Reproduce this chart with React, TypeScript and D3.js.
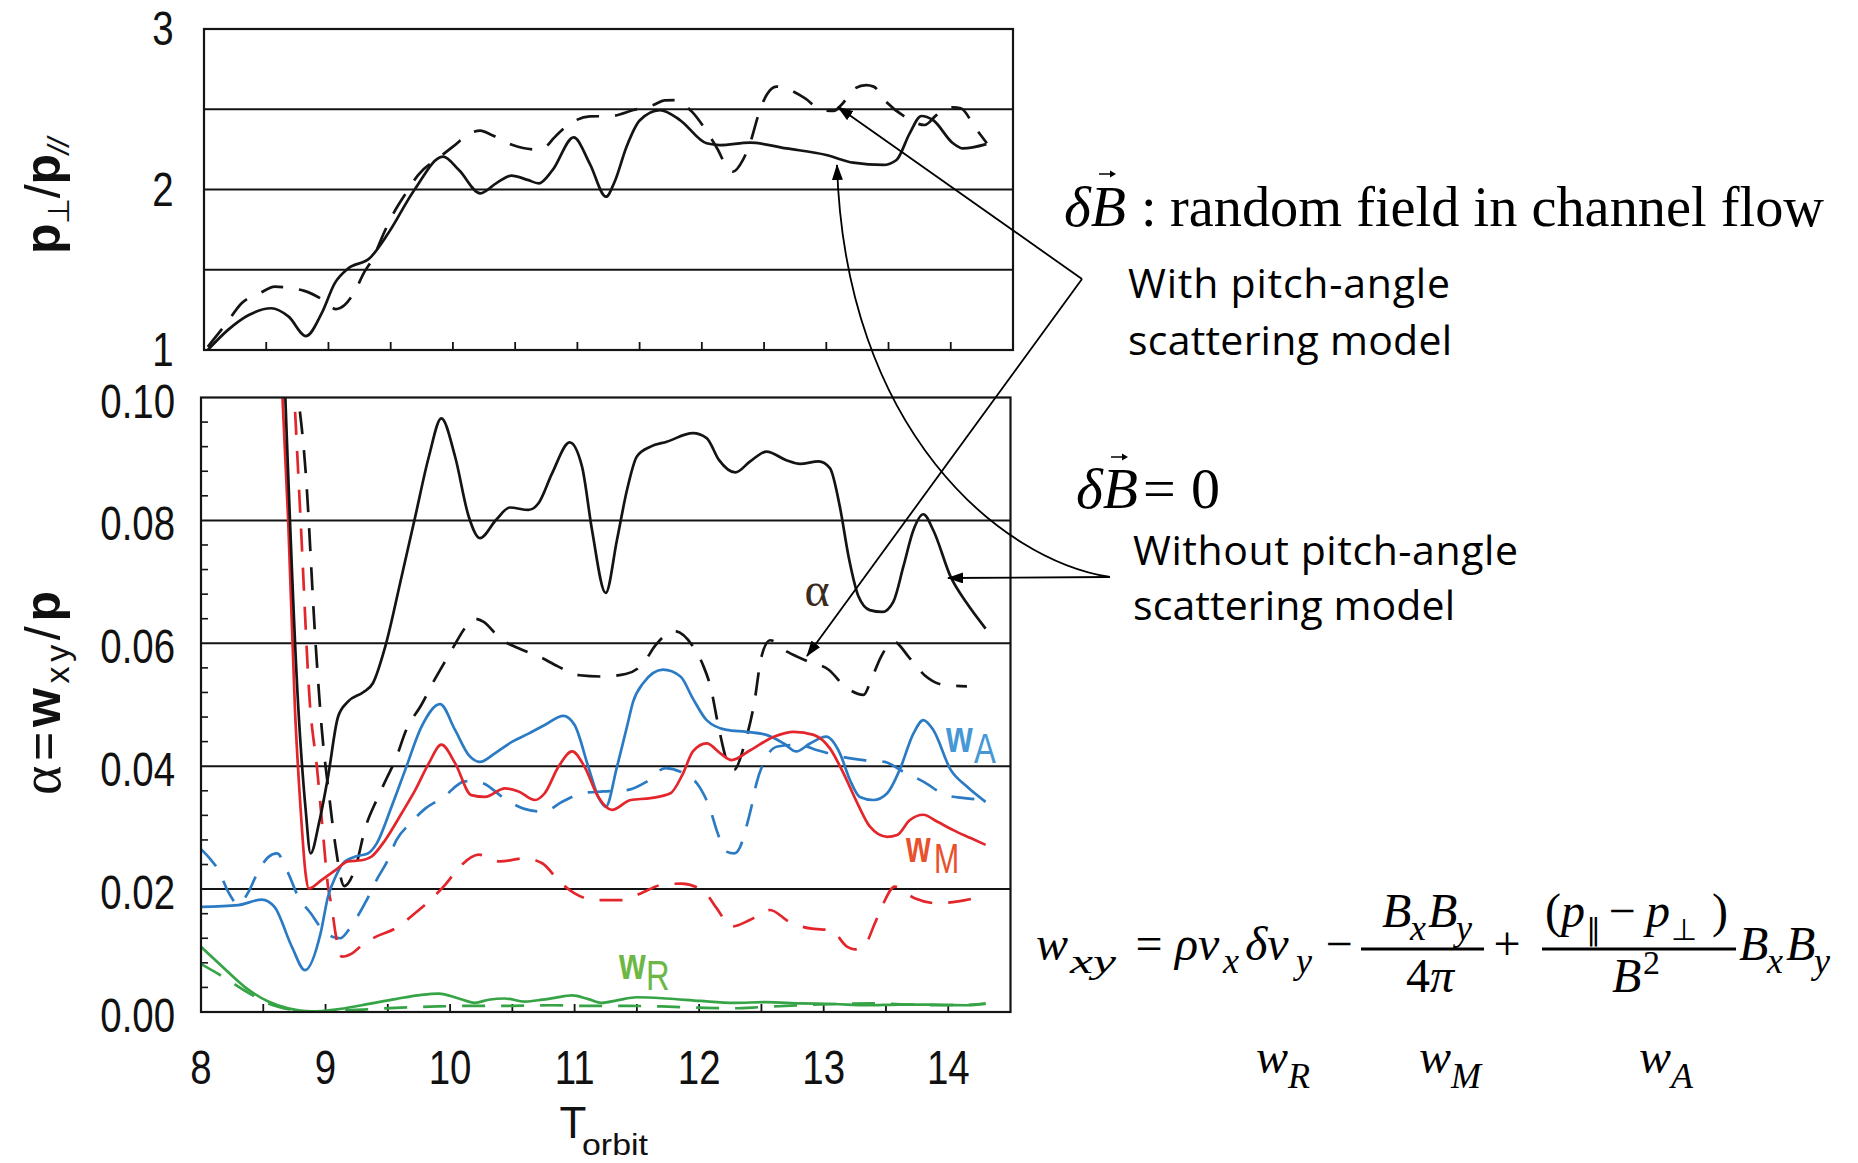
import React from 'react';
import * as d3 from 'd3';

const W = 1858;
const H = 1163;

// ---------- data: top panel  (T_orbit, p_perp/p_par) ----------
const ratioTickLabels = [1, 2, 3];
const ratioGrid = [1.5, 2, 2.5];
const ratioNoScatter: [number, number][] = [
  [8.03, 1.0], [8.2, 1.13], [8.36, 1.218], [8.54, 1.26], [8.68, 1.208], [8.82, 1.087], [8.945, 1.228],
  [9.05, 1.415], [9.16, 1.509], [9.33, 1.571], [9.48, 1.727], [9.69, 1.997], [9.92, 2.205],
  [10.05, 2.12], [10.22, 1.976], [10.35, 2.04], [10.47, 2.086], [10.6, 2.06], [10.69, 2.038],
  [10.8, 2.12], [10.97, 2.325], [11.1, 2.16], [11.23, 1.955], [11.3, 2.05], [11.395, 2.267],
  [11.5, 2.43], [11.663, 2.495], [11.824, 2.433], [12.038, 2.288], [12.145, 2.277], [12.386, 2.292],
  [12.68, 2.256], [13.0, 2.215], [13.216, 2.167], [13.457, 2.153], [13.564, 2.184], [13.67, 2.35],
  [13.764, 2.458], [13.857, 2.433], [14.018, 2.288], [14.098, 2.256], [14.286, 2.283],
];
const ratioScatter: [number, number][] = [
  [8.03, 1.02], [8.18, 1.166], [8.3, 1.29], [8.45, 1.355], [8.57, 1.395], [8.7, 1.385], [8.8, 1.37],
  [8.96, 1.31], [9.06, 1.255], [9.13, 1.28], [9.21, 1.363], [9.29, 1.488], [9.35, 1.56], [9.45, 1.737],
  [9.53, 1.862], [9.63, 1.986], [9.72, 2.09], [9.89, 2.2], [10.0, 2.267], [10.15, 2.355], [10.22, 2.367],
  [10.31, 2.34], [10.48, 2.277], [10.66, 2.25], [10.75, 2.27], [10.81, 2.32], [10.94, 2.41], [11.1, 2.455],
  [11.275, 2.458], [11.45, 2.495], [11.61, 2.526], [11.7, 2.555], [11.78, 2.557], [11.92, 2.485],
  [12.04, 2.36], [12.13, 2.246], [12.2, 2.14], [12.25, 2.111], [12.33, 2.184], [12.4, 2.319],
  [12.45, 2.454], [12.52, 2.589], [12.6, 2.641], [12.67, 2.63], [12.83, 2.568], [12.96, 2.495],
  [13.06, 2.49], [13.12, 2.526], [13.23, 2.63], [13.32, 2.65], [13.38, 2.641], [13.48, 2.547],
  [13.63, 2.454], [13.79, 2.402], [13.88, 2.46], [13.94, 2.495], [14.02, 2.512], [14.08, 2.506],
  [14.2, 2.381], [14.29, 2.288],
];

// ---------- data: bottom panel (T_orbit, alpha) ----------
const xTickLabels = [8, 9, 10, 11, 12, 13, 14];
const alphaTickLabels = [0, 0.02, 0.04, 0.06, 0.08, 0.1];
const alphaGrid = [0.02, 0.04, 0.06, 0.08];

const alphaNoScatter: [number, number][] = [
  [8.67, 0.104], [8.78, 0.05], [8.84, 0.033], [8.88, 0.0258], [8.95, 0.031], [9.02, 0.0383], [9.1, 0.048],
  [9.18, 0.0505], [9.3, 0.052], [9.38, 0.0535], [9.48, 0.0595], [9.61, 0.0708], [9.72, 0.0806],
  [9.83, 0.0904], [9.93, 0.0966], [10.04, 0.0904], [10.15, 0.0806], [10.24, 0.0771], [10.37, 0.0801],
  [10.48, 0.0821], [10.63, 0.0817], [10.71, 0.0828], [10.82, 0.0877], [10.96, 0.0927], [11.06, 0.0887],
  [11.14, 0.0784], [11.25, 0.0682], [11.34, 0.0768], [11.42, 0.0849], [11.5, 0.0904], [11.61, 0.092],
  [11.74, 0.0928], [11.95, 0.0942], [12.06, 0.0934], [12.16, 0.0898], [12.29, 0.0878], [12.41, 0.0896],
  [12.54, 0.0912], [12.7, 0.0898], [12.81, 0.0892], [12.96, 0.0896], [13.05, 0.0885], [13.13, 0.0822],
  [13.2, 0.0741], [13.28, 0.0676], [13.37, 0.0654], [13.47, 0.0651], [13.56, 0.0668], [13.64, 0.0725],
  [13.72, 0.0784], [13.8, 0.081], [13.88, 0.0784], [14.02, 0.0708], [14.15, 0.0665], [14.3, 0.0624],
];
const alphaScatter: [number, number][] = [
  [8.75, 0.104], [8.84, 0.088], [8.92, 0.06], [8.97, 0.046], [9.03, 0.035], [9.08, 0.027], [9.15, 0.0205],
  [9.24, 0.0235], [9.32, 0.03], [9.41, 0.0345], [9.49, 0.038], [9.56, 0.041], [9.65, 0.046], [9.77, 0.05],
  [9.86, 0.0535], [9.95, 0.0567], [10.03, 0.0595], [10.12, 0.0625], [10.2, 0.064], [10.27, 0.0635],
  [10.4, 0.0608], [10.55, 0.0592], [10.72, 0.0578], [10.87, 0.0562], [11.04, 0.0548], [11.22, 0.0546],
  [11.41, 0.055], [11.55, 0.0567], [11.65, 0.0597], [11.8, 0.062], [11.95, 0.0595], [12.03, 0.0565],
  [12.09, 0.053], [12.16, 0.046], [12.22, 0.041], [12.28, 0.0394], [12.37, 0.044], [12.44, 0.05],
  [12.5, 0.0578], [12.57, 0.0605], [12.71, 0.0586], [12.88, 0.057], [13.04, 0.0557], [13.17, 0.053],
  [13.32, 0.0516], [13.38, 0.054], [13.46, 0.0578], [13.56, 0.0603], [13.69, 0.0576], [13.81, 0.0548],
  [13.97, 0.0532], [14.15, 0.053],
];
const wANoScatter: [number, number][] = [
  [8.0, 0.0171], [8.3, 0.0174], [8.49, 0.0183], [8.59, 0.0171], [8.73, 0.0106], [8.835, 0.0068],
  [8.96, 0.0128], [9.02, 0.0188], [9.08, 0.022], [9.14, 0.0242], [9.24, 0.0253], [9.34, 0.0258],
  [9.41, 0.0274], [9.53, 0.0334], [9.64, 0.0394], [9.77, 0.0464], [9.92, 0.0501], [10.04, 0.0459],
  [10.15, 0.0418], [10.24, 0.0407], [10.36, 0.0421], [10.5, 0.044], [10.63, 0.0453], [10.76, 0.0467],
  [10.91, 0.0482], [11.0, 0.0467], [11.11, 0.0399], [11.19, 0.035], [11.25, 0.0334], [11.34, 0.0399],
  [11.42, 0.0464], [11.47, 0.0505], [11.55, 0.0535], [11.71, 0.0557], [11.85, 0.0546], [11.95, 0.051],
  [12.06, 0.0475], [12.22, 0.0459], [12.38, 0.0456], [12.54, 0.0451], [12.68, 0.0437], [12.78, 0.0424],
  [12.89, 0.0437], [13.02, 0.0448], [13.13, 0.0421], [13.21, 0.0378], [13.29, 0.035], [13.4, 0.0345],
  [13.51, 0.0356], [13.61, 0.0394], [13.72, 0.0453], [13.8, 0.0475], [13.88, 0.0459], [14.02, 0.0394],
  [14.15, 0.0367], [14.3, 0.0342],
];
const wAScatter: [number, number][] = [
  [8.0, 0.0265], [8.07, 0.025], [8.14, 0.0231], [8.22, 0.0195], [8.3, 0.0175], [8.38, 0.0195],
  [8.45, 0.0225], [8.54, 0.0252], [8.61, 0.0258], [8.7, 0.0226], [8.78, 0.0188], [8.88, 0.0161],
  [8.98, 0.0133], [9.06, 0.0122], [9.12, 0.012], [9.18, 0.0132], [9.24, 0.015], [9.33, 0.0182],
  [9.41, 0.0215], [9.5, 0.0247], [9.57, 0.028], [9.68, 0.0307], [9.8, 0.0331], [9.95, 0.035],
  [10.11, 0.0375], [10.18, 0.0376], [10.27, 0.0372], [10.42, 0.035], [10.59, 0.0331], [10.75, 0.0326],
  [10.9, 0.0342], [11.06, 0.0356], [11.23, 0.0359], [11.42, 0.0361], [11.58, 0.0375], [11.73, 0.0397],
  [11.85, 0.0391], [12.01, 0.0364], [12.09, 0.0329], [12.14, 0.0296], [12.22, 0.0261], [12.28, 0.0258],
  [12.33, 0.0269], [12.38, 0.0302], [12.42, 0.0334], [12.46, 0.0372], [12.52, 0.0407], [12.63, 0.0432],
  [12.8, 0.0435], [12.95, 0.0426], [13.13, 0.0416], [13.32, 0.041], [13.49, 0.0407], [13.64, 0.0391],
  [13.8, 0.0375], [13.98, 0.0353], [14.13, 0.0348], [14.3, 0.0345],
];
const wMNoScatter: [number, number][] = [
  [8.645, 0.104], [8.7, 0.08], [8.755, 0.049], [8.8, 0.033], [8.84, 0.0225], [8.865, 0.0201],
  [8.97, 0.0215], [9.08, 0.0231], [9.18, 0.0245], [9.29, 0.0247], [9.37, 0.0253], [9.48, 0.028],
  [9.61, 0.0323], [9.72, 0.0361], [9.83, 0.0405], [9.93, 0.0435], [10.04, 0.0405], [10.17, 0.0353],
  [10.28, 0.035], [10.44, 0.0364], [10.55, 0.0359], [10.68, 0.0345], [10.76, 0.0356], [10.87, 0.0399],
  [10.98, 0.0424], [11.08, 0.0399], [11.19, 0.035], [11.3, 0.0329], [11.45, 0.0345], [11.61, 0.0348],
  [11.77, 0.0356], [11.87, 0.0388], [11.95, 0.0424], [12.06, 0.0437], [12.17, 0.0421], [12.26, 0.041],
  [12.41, 0.0426], [12.6, 0.0448], [12.76, 0.0456], [12.92, 0.0451], [13.05, 0.0429], [13.16, 0.0388],
  [13.27, 0.034], [13.37, 0.0302], [13.51, 0.0285], [13.59, 0.0288], [13.69, 0.0312], [13.8, 0.0321],
  [13.91, 0.031], [14.04, 0.0296], [14.18, 0.0283], [14.3, 0.0272],
];
const wMScatter: [number, number][] = [
  [8.74, 0.104], [8.8, 0.08], [8.875, 0.05], [8.93, 0.04], [8.98, 0.029], [9.02, 0.0204], [9.05, 0.0171],
  [9.08, 0.0128], [9.13, 0.009], [9.21, 0.0095], [9.3, 0.011], [9.41, 0.0123], [9.56, 0.0136],
  [9.72, 0.0161], [9.84, 0.0182], [9.96, 0.0207], [10.09, 0.0239], [10.23, 0.0256], [10.4, 0.0245],
  [10.6, 0.025], [10.74, 0.0242], [10.88, 0.0212], [11.0, 0.0193], [11.18, 0.0182], [11.37, 0.0182],
  [11.53, 0.0193], [11.7, 0.0207], [11.86, 0.0209], [12.04, 0.0196], [12.14, 0.0169], [12.26, 0.0139],
  [12.41, 0.015], [12.57, 0.0166], [12.72, 0.0147], [12.89, 0.0136], [13.06, 0.0133], [13.19, 0.0106],
  [13.25, 0.0102], [13.33, 0.0109], [13.41, 0.0144], [13.48, 0.0177], [13.57, 0.0204], [13.73, 0.0185],
  [13.91, 0.0177], [14.08, 0.018], [14.27, 0.0188],
];
const wRNoScatter: [number, number][] = [
  [8.0, 0.0106], [8.17, 0.0074], [8.35, 0.0041], [8.54, 0.0017], [8.7, 0.0006], [8.89, 0.0001],
  [9.08, 0.0004], [9.29, 0.0011], [9.56, 0.0021], [9.77, 0.0028], [9.91, 0.003], [10.07, 0.0022],
  [10.2, 0.0015], [10.31, 0.002], [10.44, 0.0022], [10.6, 0.0017], [10.74, 0.002], [10.84, 0.0023],
  [10.98, 0.0027], [11.11, 0.0021], [11.22, 0.0015], [11.34, 0.0019], [11.5, 0.0024], [11.74, 0.0022],
  [12.01, 0.0018], [12.28, 0.0015], [12.54, 0.0016], [12.81, 0.0014], [13.08, 0.0013], [13.35, 0.0011],
  [13.61, 0.0012], [13.88, 0.0012], [14.15, 0.0011], [14.3, 0.0014],
];
const wRScatter: [number, number][] = [
  [8.0, 0.0078], [8.18, 0.0057], [8.35, 0.0035], [8.55, 0.0013], [8.75, 0.0003], [8.9, 0.0],
  [9.1, 0.0002], [9.3, 0.0004], [9.6, 0.0007], [9.9, 0.0009], [10.2, 0.001], [10.5, 0.001],
  [10.8, 0.0011], [11.1, 0.001], [11.4, 0.001], [11.7, 0.0009], [12.0, 0.0007], [12.25, 0.0006],
  [12.5, 0.0008], [12.8, 0.0011], [13.1, 0.0013], [13.4, 0.0014], [13.7, 0.0012], [14.0, 0.0011],
  [14.3, 0.0013],
];

const BLACK = '#141414';
const BLUE = '#2b7bc4';
const RED = '#e3262b';
const GREEN = '#36a446';

const SANS = 'Liberation Sans, Arial, sans-serif';
const SERIF = 'Liberation Serif, Times New Roman, serif';
const TEXT_SANS = 'Open Sans, Noto Sans, sans-serif';

const xTop = d3.scaleLinear().domain([8, 14.5]).range([204, 1013]);
const yTop = d3.scaleLinear().domain([1, 3]).range([350, 29]);
const xBot = d3.scaleLinear().domain([8, 14.5]).range([201, 1010.5]);
const yBot = d3.scaleLinear().domain([0, 0.1]).range([1012, 397.5]);

const halfTicks = d3.range(8.5, 14.01, 0.5);
const minorAlpha = d3.range(0.004, 0.1, 0.004).filter((v) => Math.abs(v / 0.02 - Math.round(v / 0.02)) > 0.01);

function Tick({ x, y, text, anchor }: { x: number; y: number; text: string; anchor: string }) {
  return (
    <g transform={`translate(${x},${y}) scale(0.8,1)`}>
      <text x={0} y={0} fontFamily={SANS} fontSize={48} textAnchor={anchor} fill="#111">
        {text}
      </text>
    </g>
  );
}

function Sub({ x, y, size, color, main, sub, mainSize, subSize, sx }: any) {
  return (
    <g fill={color} fontFamily={SANS}>
      <g transform={`translate(${x},${y}) scale(${sx},1)`}>
        <text fontSize={mainSize} fontWeight="bold">{main}</text>
      </g>
      <g transform={`translate(${x + size},${y + 11}) scale(${sx},1)`}>
        <text fontSize={subSize}>{sub}</text>
      </g>
    </g>
  );
}

export default function App() {
  const lineTop = d3
    .line<[number, number]>()
    .x((d) => xTop(d[0]))
    .y((d) => yTop(d[1]))
    .curve(d3.curveMonotoneX);
  const lineBot = d3
    .line<[number, number]>()
    .x((d) => xBot(d[0]))
    .y((d) => yBot(d[1]))
    .curve(d3.curveMonotoneX);

  const DASH = '23 16';
  const SW = 2.7;

  const botSeries = [
    { d: wRScatter, c: GREEN, dash: DASH },
    { d: wRNoScatter, c: GREEN, dash: undefined },
    { d: wAScatter, c: BLUE, dash: DASH },
    { d: wMScatter, c: RED, dash: DASH },
    { d: alphaScatter, c: BLACK, dash: DASH },
    { d: wANoScatter, c: BLUE, dash: undefined },
    { d: wMNoScatter, c: RED, dash: undefined },
    { d: alphaNoScatter, c: BLACK, dash: undefined },
  ];

  return (
    <svg
      width={W}
      height={H}
      viewBox={`0 0 ${W} ${H}`}
      style={{ position: 'absolute', left: 0, top: 0, background: '#fff' }}
    >
      <defs>
        <clipPath id="clipTop">
          <rect x={204} y={29} width={809} height={321} />
        </clipPath>
        <clipPath id="clipBot">
          <rect x={201} y={397.5} width={809.5} height={614.5} />
        </clipPath>
        <marker id="ah" viewBox="0 0 16 11" refX={15} refY={5.5} markerWidth={16} markerHeight={11} markerUnits="userSpaceOnUse" orient="auto">
          <path d="M0,0 L16,5.5 L0,11 z" fill="#000" />
        </marker>
      </defs>
      <rect x={0} y={0} width={W} height={H} fill="#fff" />

      {/* ---------------- TOP PANEL ---------------- */}
      {ratioGrid.map((v) => (
        <line key={v} x1={xTop(8)} x2={xTop(14.5)} y1={yTop(v)} y2={yTop(v)} stroke={BLACK} strokeWidth={2} />
      ))}
      {halfTicks.map((t) => (
        <line key={t} x1={xTop(t)} x2={xTop(t)} y1={yTop(1)} y2={yTop(1) - 8} stroke={BLACK} strokeWidth={1.8} />
      ))}
      <g clipPath="url(#clipTop)" fill="none">
        <path d={lineTop(ratioScatter) || ''} stroke={BLACK} strokeWidth={SW} strokeDasharray={DASH} />
        <path d={lineTop(ratioNoScatter) || ''} stroke={BLACK} strokeWidth={SW} />
      </g>
      <rect x={204} y={29} width={809} height={321} fill="none" stroke={BLACK} strokeWidth={2.2} />
      {ratioTickLabels.map((v) => (
        <Tick key={v} x={163} y={yTop(v) + 16} text={String(v)} anchor="middle" />
      ))}
      <text
        transform="translate(60,196) rotate(-90)"
        textAnchor="middle"
        fontFamily={SANS}
        fontWeight="bold"
        fontSize={50}
        fill="#111"
        textLength={116}
        lengthAdjust="spacing"
      >
        <tspan>p</tspan>
        <tspan fontSize={30} fontWeight="normal" dy={9}>⊥</tspan>
        <tspan dy={-9} fontWeight="normal">/</tspan>
        <tspan>p</tspan>
        <tspan fontSize={30} fontWeight="normal" fontStyle="italic" dy={9}>//</tspan>
      </text>

      {/* ---------------- BOTTOM PANEL ---------------- */}
      {alphaGrid.map((v) => (
        <line key={v} x1={xBot(8)} x2={xBot(14.5)} y1={yBot(v)} y2={yBot(v)} stroke={BLACK} strokeWidth={2} />
      ))}
      {minorAlpha.map((v) => (
        <line key={v} x1={xBot(8)} x2={xBot(8) + 7} y1={yBot(v)} y2={yBot(v)} stroke={BLACK} strokeWidth={1.6} />
      ))}
      {halfTicks.map((t) => (
        <line key={t} x1={xBot(t)} x2={xBot(t)} y1={yBot(0)} y2={yBot(0) - 8} stroke={BLACK} strokeWidth={1.8} />
      ))}
      <g clipPath="url(#clipBot)" fill="none">
        {botSeries.map((s, i) => (
          <path key={i} d={lineBot(s.d) || ''} stroke={s.c} strokeWidth={SW} strokeDasharray={s.dash} />
        ))}
      </g>
      <rect x={201} y={397.5} width={809.5} height={614.5} fill="none" stroke={BLACK} strokeWidth={2.2} />
      {alphaTickLabels.map((v) => (
        <Tick key={v} x={175} y={yBot(v) + 20} text={v.toFixed(2)} anchor="end" />
      ))}
      {xTickLabels.map((t) => (
        <Tick key={t} x={xBot(t)} y={1084} text={String(t)} anchor="middle" />
      ))}
      <text x={573} y={1138} textAnchor="middle" fontFamily={SANS} fontSize={44} fill="#111">T</text>
      <text x={582} y={1155} fontFamily={SANS} fontSize={29} fill="#111" textLength={66} lengthAdjust="spacingAndGlyphs">orbit</text>
      <text
        transform="translate(60,693) rotate(-90)"
        textAnchor="middle"
        fontFamily={SANS}
        fontSize={50}
        fill="#111"
        textLength={204}
        lengthAdjust="spacing"
      >
        <tspan fontFamily={SERIF} fontSize={56}>α</tspan>
        <tspan>=</tspan>
        <tspan fontWeight="bold">w</tspan>
        <tspan fontSize={34} dy={9}>xy</tspan>
        <tspan dy={-9}>/</tspan>
        <tspan fontWeight="bold">p</tspan>
      </text>

      {/* curve labels */}
      <text x={817} y={606} textAnchor="middle" fontFamily={SERIF} fontSize={48} fill="#3b2c22">α</text>
      <Sub x={946} y={752} size={28} color="#4597d6" main="w" sub="A" mainSize={44} subSize={42} sx={0.78} />
      <Sub x={906} y={862} size={28} color="#e8512d" main="w" sub="M" mainSize={44} subSize={42} sx={0.72} />
      <Sub x={619} y={979} size={27} color="#6db746" main="w" sub="R" mainSize={44} subSize={42} sx={0.78} />

      {/* ---------------- ANNOTATIONS ---------------- */}
      <g stroke="#000" strokeWidth={1.8} fill="none">
        <line x1={1082} y1={279} x2={838} y2={107} markerEnd="url(#ah)" />
        <line x1={1082} y1={279} x2={807} y2={656} markerEnd="url(#ah)" />
        <path d="M1110,577 C1000,560 845,430 837,165" markerEnd="url(#ah)" />
        <line x1={1110} y1={577} x2={948} y2={578} markerEnd="url(#ah)" />
      </g>

      {/* δB : random field in channel flow */}
      <text x={1064} y={226} fontFamily={SERIF} fontStyle="italic" fontSize={58} fill="#000" textLength={62} lengthAdjust="spacingAndGlyphs">δB</text>
      <g stroke="#000" strokeWidth={1.5} fill="#000">
        <line x1={1099} y1={174} x2={1112} y2={174} />
        <path d="M1110,170.5 L1116,174 L1110,177.5 z" stroke="none" />
      </g>
      <text x={1141} y={226} fontFamily={SERIF} fontSize={56} fill="#000">:</text>
      <text x={1170} y={226} fontFamily={SERIF} fontSize={58} fill="#000" textLength={654} lengthAdjust="spacingAndGlyphs">
        random field in channel flow
      </text>
      <text x={1128} y={298} fontFamily={TEXT_SANS} fontSize={41} fill="#000" textLength={322} lengthAdjust="spacing">
        With pitch-angle
      </text>
      <text x={1128} y={355} fontFamily={TEXT_SANS} fontSize={41} fill="#000" textLength={324} lengthAdjust="spacing">
        scattering model
      </text>

      {/* δB = 0 */}
      <text x={1076} y={508} fontFamily={SERIF} fontStyle="italic" fontSize={58} fill="#000" textLength={62} lengthAdjust="spacingAndGlyphs">δB</text>
      <g stroke="#000" strokeWidth={1.5} fill="#000">
        <line x1={1111} y1={457} x2={1124} y2={457} />
        <path d="M1122,453.5 L1128,457 L1122,460.5 z" stroke="none" />
      </g>
      <text x={1143} y={508} fontFamily={SERIF} fontSize={58} fill="#000">=</text>
      <text x={1191} y={508} fontFamily={SERIF} fontSize={58} fill="#000">0</text>
      <text x={1133} y={565} fontFamily={TEXT_SANS} fontSize={41} fill="#000" textLength={385} lengthAdjust="spacing">
        Without pitch-angle
      </text>
      <text x={1133} y={620} fontFamily={TEXT_SANS} fontSize={41} fill="#000" textLength={322} lengthAdjust="spacing">
        scattering model
      </text>

      {/* formula */}
      <g fontFamily={SERIF} fill="#000">
        <text x={1036} y={960} fontSize={48} fontStyle="italic">w</text>
        <text x={1070} y={973} fontSize={34} fontStyle="italic" textLength={46} lengthAdjust="spacingAndGlyphs">xy</text>
        <text x={1149} y={960} fontSize={48} textAnchor="middle">=</text>
        <text x={1175} y={960} fontSize={48} fontStyle="italic">ρv</text>
        <text x={1223} y={973} fontSize={36} fontStyle="italic">x</text>
        <text x={1245} y={960} fontSize={48} fontStyle="italic">δv</text>
        <text x={1296} y={973} fontSize={36} fontStyle="italic">y</text>
        <text x={1339} y={960} fontSize={48} textAnchor="middle">−</text>
        <line x1={1361} x2={1484} y1={949} y2={949} stroke="#000" strokeWidth={2.8} />
        <text x={1382} y={927} fontSize={48} fontStyle="italic">B</text>
        <text x={1410} y={940} fontSize={36} fontStyle="italic">x</text>
        <text x={1428} y={927} fontSize={48} fontStyle="italic">B</text>
        <text x={1456} y={940} fontSize={36} fontStyle="italic">y</text>
        <text x={1406} y={992} fontSize={48}>4</text>
        <text x={1430} y={992} fontSize={48} fontStyle="italic">π</text>
        <text x={1507} y={960} fontSize={48} textAnchor="middle">+</text>
        <line x1={1542} x2={1736} y1={949} y2={949} stroke="#000" strokeWidth={2.8} />
        <text x={1545} y={927} fontSize={48}>(</text>
        <text x={1561} y={927} fontSize={48} fontStyle="italic">p</text>
        <text x={1586} y={940} fontSize={30}>∥</text>
        <text x={1622} y={927} fontSize={48} textAnchor="middle">−</text>
        <text x={1646} y={927} fontSize={48} fontStyle="italic">p</text>
        <text x={1671} y={940} fontSize={30}>⊥</text>
        <text x={1712} y={927} fontSize={48}>)</text>
        <text x={1612} y={992} fontSize={48} fontStyle="italic">B</text>
        <text x={1643} y={974} fontSize={34}>2</text>
        <text x={1739} y={960} fontSize={48} fontStyle="italic">B</text>
        <text x={1767} y={973} fontSize={36} fontStyle="italic">x</text>
        <text x={1786} y={960} fontSize={48} fontStyle="italic">B</text>
        <text x={1814} y={973} fontSize={36} fontStyle="italic">y</text>

        <text x={1256} y={1073} fontSize={48} fontStyle="italic">w</text>
        <text x={1288} y={1088} fontSize={36} fontStyle="italic">R</text>
        <text x={1419} y={1073} fontSize={48} fontStyle="italic">w</text>
        <text x={1451} y={1088} fontSize={36} fontStyle="italic">M</text>
        <text x={1639} y={1073} fontSize={48} fontStyle="italic">w</text>
        <text x={1671} y={1088} fontSize={36} fontStyle="italic">A</text>
      </g>
    </svg>
  );
}
